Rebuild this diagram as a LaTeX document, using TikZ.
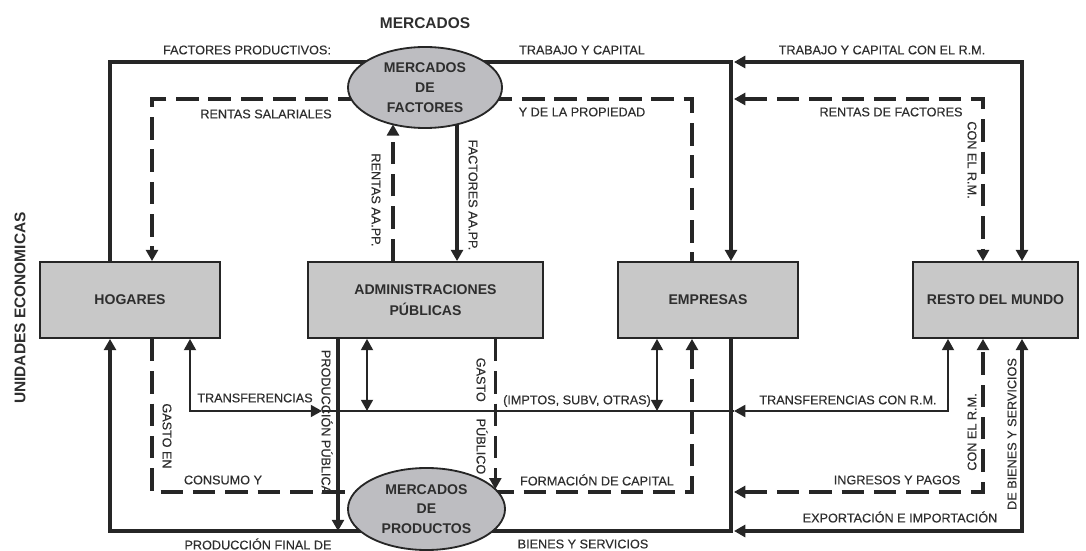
\documentclass[tikz,border=0pt]{standalone}
\usepackage{fontspec}
\setmainfont{Liberation Sans}
\newfontfamily\lblfont[FakeBold=0.35]{Liberation Sans}
\usetikzlibrary{arrows.meta,shapes.geometric,backgrounds}
\definecolor{ink}{HTML}{262626}
\definecolor{boxgray}{HTML}{C8C8C8}
\definecolor{ellgray}{HTML}{BDBDC1}
\definecolor{txt}{HTML}{2E2E2E}
\begin{document}
\begin{tikzpicture}[x=0.025cm,y=-0.025cm,
  >={Triangle[length=8pt,width=8.5pt]},
  unit/.style={draw=ink, line width=1.3pt, fill=boxgray, minimum height=1.9cm,
    font=\fontsize{10}{15}\selectfont\bfseries, text=txt, align=center, inner sep=2pt},
  mkt/.style={ellipse, draw=ink, line width=1.3pt, fill=ellgray, inner sep=0pt, outer sep=0pt,
    font=\fontsize{10}{14}\selectfont\bfseries, text=txt, align=center},
  lbl/.style={font=\lblfont\fontsize{9}{10}\selectfont, text=txt, inner sep=1pt},
  ttl/.style={font=\fontsize{11}{13}\selectfont\bfseries, text=txt, inner sep=1pt},
  flow/.style={draw=ink, line width=2.2pt},
  busline/.style={draw=ink, line width=1.4pt},
  dsh/.style={draw=ink, line width=2.4pt, dash pattern=on 16pt off 7pt},
]
\useasboundingbox (0,0) rectangle (1086,551);

% units
\node[unit, minimum width=4.5cm] (hog) at (130,300) {HOGARES};
\node[unit, minimum width=5.875cm] (aap) at (425.5,300) {ADMINISTRACIONES\\PÚBLICAS};
\node[unit, minimum width=4.5cm] (emp) at (708,300) {EMPRESAS};
\node[unit, minimum width=4.125cm] (rest) at (995.5,300) {RESTO DEL MUNDO};

% markets
\node[mkt, minimum width=3.85cm, minimum height=2.025cm] (fac) at (425,87.5) {MERCADOS\\DE\\FACTORES};
\node[mkt, minimum width=3.925cm, minimum height=2.05cm] (prod) at (426.5,509) {MERCADOS\\DE\\PRODUCTOS};

\node[ttl] (tmerc) at (425,23) {MERCADOS};
\node[ttl, rotate=90] (tunid) at (20,308) {UNIDADES ECONOMICAS};

% helper coordinates
\coordinate (r62) at (0,62);
\coordinate (r99) at (0,99);
\coordinate (bus) at (0,411);
\coordinate (r492) at (0,492);
\coordinate (r531) at (0,531);
\coordinate (c110) at (110,0);
\coordinate (c152) at (152,0);
\coordinate (c190) at (190,0);
\coordinate (c322) at (322,0);
\coordinate (c338) at (338,0);
\coordinate (c367) at (367,0);
\coordinate (c657) at (657,0);
\coordinate (c692) at (692,0);
\coordinate (c731) at (731,0);
\coordinate (c734) at (734,0);
\coordinate (c948) at (948,0);
\coordinate (c983) at (983,0);
\coordinate (c1022) at (1022,0);

\begin{scope}[on background layer]
  % top: factors market
  \draw[flow] (hog.north -| c110) |- (fac |- r62);
  \draw[flow,->] (fac |- r62) -| (emp.north -| c731);
  \draw[flow,<->] (c734 |- r62) -| (rest.north -| c1022);
  \draw[dsh,->] (fac |- r99) -| (hog.north -| c152);
  \draw[dsh] (fac |- r99) -| (emp.north -| c692);
  \draw[dsh,<->] (c734 |- r99) -| (rest.north -| c983);
  \draw[dsh,->] (aap.north -| fac.229) -- (fac.229);
  \draw[flow,->] (fac.311) -- (aap.north -| fac.311);
  % transfers
  \draw[busline,<->] (hog.south -| c190) |- (c322 |- bus);
  \draw[busline] (c322 |- bus) -- (c734 |- bus);
  \draw[busline,<->] (c734 |- bus) -| (rest.south -| c948);
  \draw[busline,<->] (aap.south -| c367) -- (c367 |- bus);
  \draw[busline,<->] (emp.south -| c657) -- (c657 |- bus);
  % products market
  \draw[flow,line width=2.6pt,->] (aap.south -| c338) -- (c338 |- r531);
  \draw[dsh,->] (aap.south -| prod.16) -- (prod.16);
  \draw[dsh] (hog.south -| c152) |- (prod |- r492);
  \draw[dsh,->] (prod |- r492) -| (emp.south -| c692);
  \draw[flow] (emp.south -| c731) |- (prod |- r531);
  \draw[flow,->] (prod |- r531) -| (hog.south -| c110);
  \draw[dsh,<->] (c734 |- r492) -| (rest.south -| c983);
  \draw[flow,<->] (c734 |- r531) -| (rest.south -| c1022);
\end{scope}

% labels
\node[lbl] (l1) at (247,50) {FACTORES PRODUCTIVOS:};
\node[lbl] (l2) at (582,50) {TRABAJO Y CAPITAL};
\node[lbl] (l3) at (882,50) {TRABAJO Y CAPITAL CON EL R.M.};
\node[lbl] (l4) at (266,114) {RENTAS SALARIALES};
\node[lbl] (l5) at (582,112) {Y DE LA PROPIEDAD};
\node[lbl] (l6) at (891,112) {RENTAS DE FACTORES};
\node[lbl, rotate=-90] (l7) at (972,160) {CON EL R.M.};
\node[lbl, rotate=-90] (l8) at (376,200) {RENTAS AA.PP.};
\node[lbl, rotate=-90] (l9) at (473,195) {FACTORES AA.PP.};
\node[lbl] (l10) at (255,398) {TRANSFERENCIAS};
\node[lbl] (l11) at (577,401) {(IMPTOS, SUBV, OTRAS)};
\node[lbl] (l12) at (848,400) {TRANSFERENCIAS CON R.M.};
\node[lbl, rotate=-90] (l13) at (327,422) {PRODUCCIÓN PÚBLICA};
\node[lbl, rotate=-90] (l14) at (482,416) {GASTO\hspace{12pt}PÚBLICO};
\node[lbl, rotate=-90] (l15) at (167,436) {GASTO EN};
\node[lbl] (l16) at (223,480) {CONSUMO Y};
\node[lbl] (l17) at (597,480) {FORMACIÓN DE CAPITAL};
\node[lbl] (l18) at (897,480) {INGRESOS Y PAGOS};
\node[lbl, rotate=90] (l19) at (972,432) {CON EL R.M.};
\node[lbl] (l20) at (900,517) {EXPORTACIÓN E IMPORTACIÓN};
\node[lbl, rotate=90] (l21) at (1012,434) {DE BIENES Y SERVICIOS};
\node[lbl] (l22) at (258,544) {PRODUCCIÓN FINAL DE};
\node[lbl] (l23) at (583,544) {BIENES Y SERVICIOS};
\end{tikzpicture}
\end{document}
